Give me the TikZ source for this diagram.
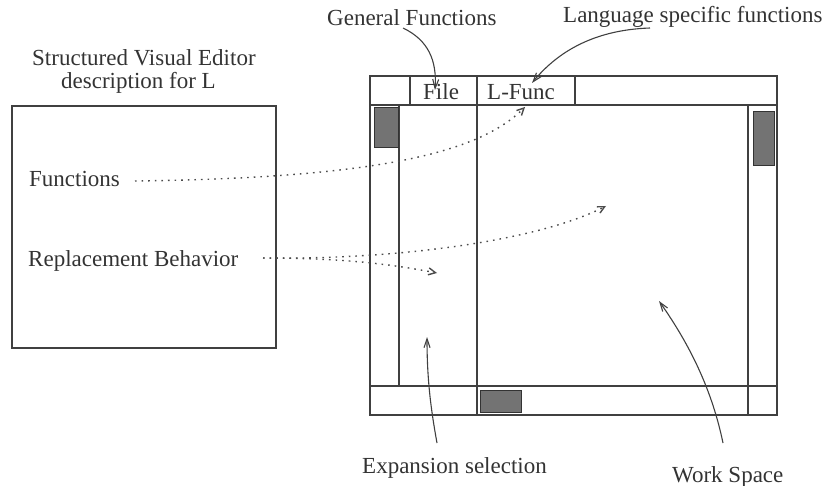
\documentclass[tikz,border=0pt]{standalone}
\usepackage{fontspec}
\setmainfont{Liberation Serif}
\usetikzlibrary{arrows.meta}
\begin{document}
\begin{tikzpicture}[x=1pt,y=-1pt,
  lbl/.style={font=\fontsize{23}{23}\selectfont, text=black!80, inner sep=0pt, anchor=base west},
  frame/.style={draw=black!75, line width=1.1pt},
  thumb/.style={draw=black!80, fill=black!55, line width=0.8pt},
  pointer/.style={draw=black!75, line width=1.1pt, -{Straight Barb[length=9pt,width=6pt]}},
  link/.style={draw=black!70, line width=1.4pt, dash pattern=on 1.6pt off 5pt,
               -{Straight Barb[length=7pt,width=7pt]}}]
\useasboundingbox (0,0) rectangle (827,486);

% description box on the left
\draw[frame] (12,106) rectangle (276,348);
\node[lbl, text depth=0pt] (title1) at (32,66) {Structured Visual Editor};
\node[lbl] (title2) at (61,89) {description for L};
\node[lbl] (funcs) at (29,187) {Functions};
\node[lbl] (repl) at (28,267) {Replacement Behavior};

% editor window
\draw[frame] (370,76) rectangle (777,415);
\draw[frame] (370,105) -- (777,105);
\draw[frame] (370,386) -- (777,386);
\draw[frame] (410,76) -- (410,105);
\draw[frame] (575,76) -- (575,105);
\draw[frame] (477,76) -- (477,415);
\draw[frame] (399,105) -- (399,386);
\draw[frame] (748,105) -- (748,415);

% scroll thumbs
\draw[thumb] (374,107) rectangle (398,147);
\draw[thumb] (753,111) rectangle (774,165);
\draw[thumb] (480,390) rectangle (521,412);

% menu entries
\node[lbl] (file) at (423,100) {File};
\node[lbl] (lfunc) at (487,100) {L-Func};

% annotations
\node[lbl] (general) at (327,26) {General Functions};
\node[lbl] (langspec) at (563,23) {Language specific functions};
\node[lbl] (expsel) at (362,473) {Expansion selection};
\node[lbl] (work) at (672,482) {Work Space};

% arrow targets
\coordinate (fileTip) at (435,90);
\coordinate (lfuncTip) at (532,83);
\coordinate (expTip) at (427,337);
\coordinate (workTip) at (659,301);
\coordinate (funcsTip) at (525,107);
\coordinate (wsTip) at (606,206);
\coordinate (esTip) at (437,273);
\coordinate (funcsStart) at (135,181);
\coordinate (replStart) at (263,258);

% solid pointers from the annotations
\draw[pointer] (403,28) .. controls (428,40) and (437,60) .. (fileTip);
\draw[pointer] (650,28) .. controls (590,30) and (555,55) .. (lfuncTip);
\draw[pointer] (437,443) .. controls (431,410) and (427,380) .. (expTip);
\draw[pointer] (723,443) .. controls (712,390) and (690,345) .. (workTip);

% dotted links from the description
\draw[link] (funcsStart) .. controls (380,178) and (480,152) .. (funcsTip);
\draw[link] (replStart) .. controls (400,260) and (540,240) .. (wsTip);
\draw[link] (replStart) .. controls (330,258) and (380,262) .. (esTip);
\end{tikzpicture}
\end{document}
